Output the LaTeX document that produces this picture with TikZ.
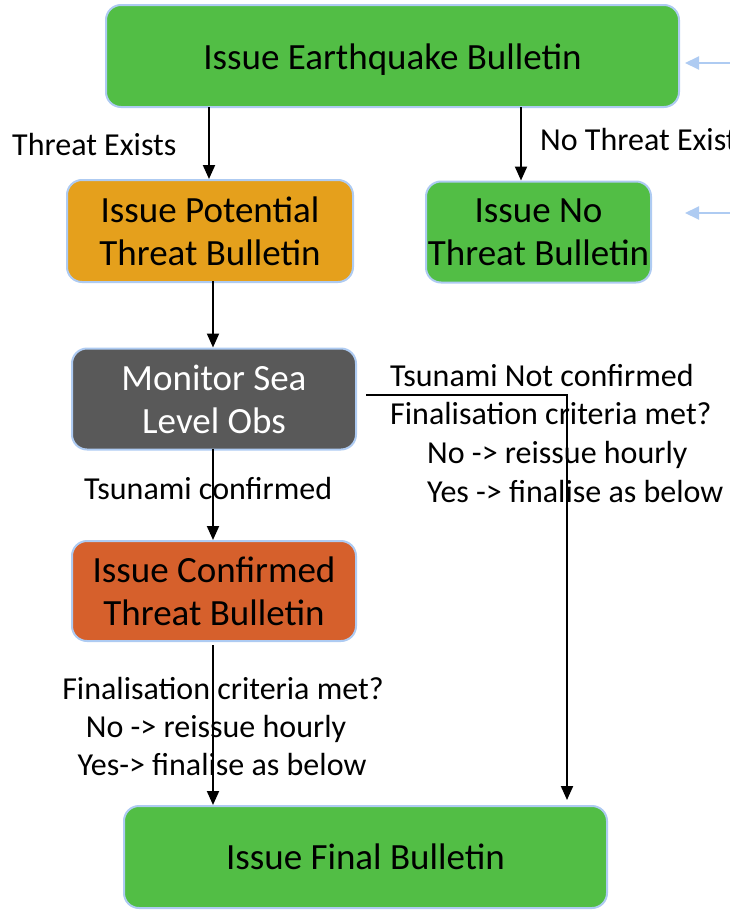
\documentclass[tikz,border=0pt]{standalone}
\usepackage{fontspec}
\setmainfont{Carlito}
\usetikzlibrary{arrows.meta}
\definecolor{gr}{HTML}{52BE45}
\definecolor{org}{HTML}{E5A01C}
\definecolor{dgr}{HTML}{595959}
\definecolor{red2}{HTML}{D6602C}
\definecolor{bord}{HTML}{AECBF2}
\tikzset{
  box/.style={rectangle, rounded corners=15pt, draw=bord, line width=2pt, align=center, inner sep=0pt,
    font=\fontsize{37}{43}\selectfont, text=black},
  lbl/.style={font=\fontsize{32}{38.5}\selectfont, inner sep=0pt},
  arr/.style={-{Triangle[length=14pt,width=12pt]}, line width=2pt},
  barr/.style={-{Triangle[length=14pt,width=13pt]}, line width=2pt, draw=bord},
}
\begin{document}
\begin{tikzpicture}[x=1pt,y=-1pt]
\useasboundingbox (0,0) rectangle (730,910);
\node[box, fill=gr, minimum width=573pt, minimum height=102pt] (eq) at (392.5,56) {\raisebox{-4pt}[\height][\depth]{Issue Earthquake Bulletin}};
\node[box, fill=org, minimum width=286pt, minimum height=102pt] (pot) at (210,231) {Issue Potential\\Threat Bulletin};
\node[box, fill=gr, minimum width=225pt, minimum height=101pt] (nt) at (538.5,232) {Issue No\\Threat Bulletin};
\node[box, fill=dgr, text=white, minimum width=284pt, minimum height=101pt] (mon) at (214,399) {Monitor Sea\\Level Obs};
\node[box, fill=red2, minimum width=284pt, minimum height=100pt] (conf) at (214,591) {Issue Confirmed\\Threat Bulletin};
\node[box, fill=gr, minimum width=483pt, minimum height=102pt] (fin) at (365.5,857) {Issue Final Bulletin};

\node[lbl, anchor=base west] (l1) at (12,155) {Threat Exists};
\node[lbl, anchor=base west] (l2) at (540,150) {No Threat Exists};
\node[lbl, anchor=base west] (l3) at (84,499) {Tsunami confirmed};
\node[lbl, anchor=base west] (l4a) at (390,386) {Tsunami Not confirmed};
\node[lbl, anchor=base west] (l4b) at (390,424) {Finalisation criteria met?};
\node[lbl, anchor=base west] (l4c) at (427,463) {No -> reissue hourly};
\node[lbl, anchor=base west] (l4d) at (427,502) {Yes -> finalise as below};
\node[lbl, anchor=base] (l5a) at (223,699) {Finalisation criteria met?};
\node[lbl, anchor=base] (l5b) at (216,737) {No -> reissue hourly};
\node[lbl, anchor=base] (l5c) at (222,775) {Yes-> finalise as below};

\coordinate (e1) at (209,107);
\coordinate (e2) at (521,107);
\draw[arr] (e1) -- (e1 |- pot.north);
\draw[arr] (e2) -- (e2 |- nt.north);
\coordinate (p1) at (213,281);
\draw[arr] (p1) -- (p1 |- mon.north);
\coordinate (m1) at (213,449);
\draw[arr] (m1) -- (m1 |- conf.north);
\coordinate (c1) at (213,645);
\draw[arr] (c1) -- (c1 |- fin.north);
\coordinate (m2) at (366,395);
\coordinate (m3) at (567,395);
\coordinate (f2) at (567,800);
\draw[arr] (m2) -- (m3) -- (f2);

\coordinate (b1) at (730,63);
\coordinate (b2) at (730,213);
\draw[barr] (b1) -- (685,63);
\draw[barr] (b2) -- (685,213);
\end{tikzpicture}
\end{document}
